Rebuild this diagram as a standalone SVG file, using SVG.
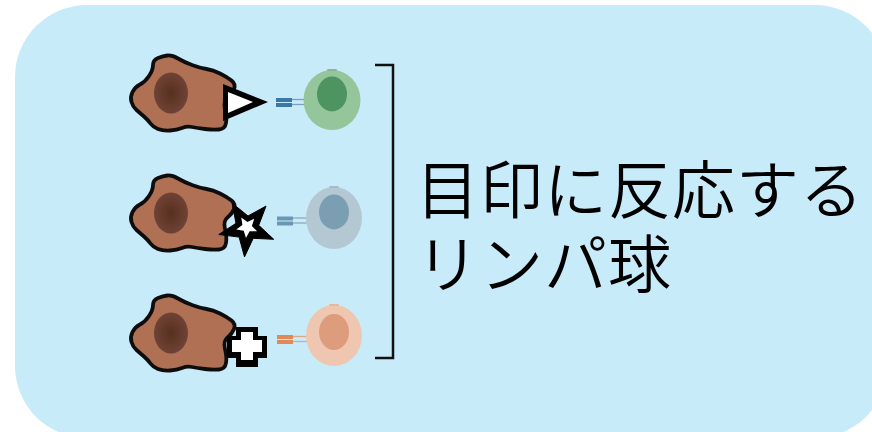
<svg xmlns="http://www.w3.org/2000/svg" xmlns:xlink="http://www.w3.org/1999/xlink" width="872" height="432" viewBox="0 0 872 432">
  <style>
    .body { fill: #b06f53; stroke: #111; stroke-width: 3.8; stroke-linejoin: round; }
    .nuc { fill: url(#nucGrad); }
    .label { font-family: "Noto Sans CJK JP", "Noto Sans", sans-serif; font-size: 63px; font-weight: 350; letter-spacing: 1px; fill: #000; }
    .bracket { fill: none; stroke: #111; stroke-width: 2.5; }
  </style>
  <defs>
    <radialGradient id="nucGrad" cx="0.5" cy="0.5" r="0.6">
      <stop offset="0" stop-color="#57301f"/>
      <stop offset="1" stop-color="#74463a"/>
    </radialGradient>
    <filter id="soft" x="-10%" y="-10%" width="120%" height="120%">
      <feGaussianBlur stdDeviation="0.5"/>
    </filter>
    <!-- irregular presenting cell, drawn at the top row position -->
    <g id="apc">
      <path class="body" d="M131.5,102 Q130,97 132.5,92 Q135,87 140,84.5 Q145,82 149,76 Q153,70 153,65 Q153,60 158,58 Q163,56 167.5,55.5 Q172,55 178,58.5 Q184,62 192,65 Q200,68 206.5,69 Q213,70 220,73.5 Q227,77 231.5,80.5 Q236,84 234,89 Q232,94 227.5,97.5 Q223,101 225,109 Q227,117 226,123 Q225,129 219,129.5 Q213,130 205,129 Q197,128 192,127 Q187,126 182,128 Q177,130 170,130.5 Q163,131 158,129 Q153,127 150.5,123.5 Q148,120 144,116.5 Q140,113 136.5,110 Q133,107 131.5,102 Z"/>
      <ellipse class="nuc" cx="171" cy="93" rx="17" ry="20.5"/>
    </g>
  </defs>

  <!-- panel -->
  <rect x="15" y="5" width="872" height="433" rx="72" ry="72" fill="#c8ebfa"/>

  <!-- row 1: triangle antigen, green lymphocyte -->
  <g id="cell-1">
    <use xlink:href="#apc" filter="url(#soft)"/>
    <polygon points="223,84 223,121 268,102" fill="#000"/>
    <polygon points="228,92 228,113 253,102" fill="#fff"/>
    <g id="receptor-1">
      <rect x="276" y="98" width="16" height="4" fill="#3b78a9"/>
      <rect x="276" y="103" width="16" height="4" fill="#3b78a9"/>
      <line x1="292" y1="99.5" x2="308" y2="99.5" stroke="#7d9fb8" stroke-width="1.3"/>
      <line x1="292" y1="104.5" x2="308" y2="104.5" stroke="#7d9fb8" stroke-width="1.3"/>
    </g>
    <g id="lymph-1">
      <ellipse cx="332" cy="100" rx="28.5" ry="30" fill="#94c59b"/>
      <rect x="327" y="69" width="10" height="2" rx="1" fill="#86b98e"/>
      <ellipse cx="332" cy="94" rx="15" ry="17.5" fill="#4d9461"/>
    </g>
  </g>

  <!-- row 2: star antigen, grey-blue lymphocyte -->
  <g id="cell-2">
    <use xlink:href="#apc" transform="translate(0,120)" filter="url(#soft)"/>
    <polygon points="266.0,206.1 258.7,225.3 273.7,239.3 253.2,238.3 244.5,256.9 239.1,237.1 218.8,234.5 236.0,223.3 232.1,203.1 248.0,216.0" fill="#000" stroke="#000" stroke-width="1" stroke-linejoin="miter"/>
    <polygon points="254.2,218.7 251.9,225.9 257.1,231.3 249.6,231.3 246.0,238.0 243.7,230.8 236.3,229.5 242.4,225.0 241.3,217.6 247.4,222.0" fill="#fff"/>
    <g id="receptor-2">
      <rect x="277" y="216.5" width="16" height="4" fill="#6a98b4"/>
      <rect x="277" y="221.5" width="16" height="4" fill="#6a98b4"/>
      <line x1="293" y1="218" x2="310" y2="218" stroke="#8fa9bb" stroke-width="1.3"/>
      <line x1="293" y1="223" x2="310" y2="223" stroke="#8fa9bb" stroke-width="1.3"/>
    </g>
    <g id="lymph-2">
      <ellipse cx="334" cy="218" rx="28" ry="31" fill="#b4c8d4"/>
      <rect x="329" y="186" width="10" height="2" rx="1" fill="#a6bccb"/>
      <ellipse cx="334" cy="212" rx="15" ry="17.5" fill="#7a9fb3"/>
    </g>
  </g>

  <!-- row 3: cross antigen, peach lymphocyte -->
  <g id="cell-3">
    <use xlink:href="#apc" transform="translate(0,240)" filter="url(#soft)"/>
    <path d="M236,327 H258 V336 H267 V358 H258 V367 H236 V358 H227 V336 H236 Z" fill="#000"/>
    <path d="M241,332 H253 V340 H262 V352 H253 V360 H241 V352 H232 V340 H241 Z" fill="#fff"/>
    <g id="receptor-3">
      <rect x="277" y="335" width="16" height="4" fill="#e08a5c"/>
      <rect x="277" y="340" width="16" height="4" fill="#e08a5c"/>
      <line x1="293" y1="336.5" x2="310" y2="336.5" stroke="#d9a98e" stroke-width="1.3"/>
      <line x1="293" y1="341.5" x2="310" y2="341.5" stroke="#d9a98e" stroke-width="1.3"/>
    </g>
    <g id="lymph-3">
      <ellipse cx="334" cy="335.5" rx="28" ry="30.5" fill="#efc7b1"/>
      <rect x="329" y="304" width="10" height="2" rx="1" fill="#e6b79e"/>
      <ellipse cx="334" cy="332" rx="15" ry="18" fill="#dd9d7d"/>
    </g>
  </g>

  <!-- bracket grouping the three lymphocytes -->
  <g id="connectors">
    <path class="bracket" d="M375,65 H393 V358 H375"/>
  </g>

  <g id="caption">
    <text class="label"><tspan x="416" y="213">目印に反応する</tspan><tspan x="416" y="287">リンパ球</tspan></text>
  </g>
</svg>
